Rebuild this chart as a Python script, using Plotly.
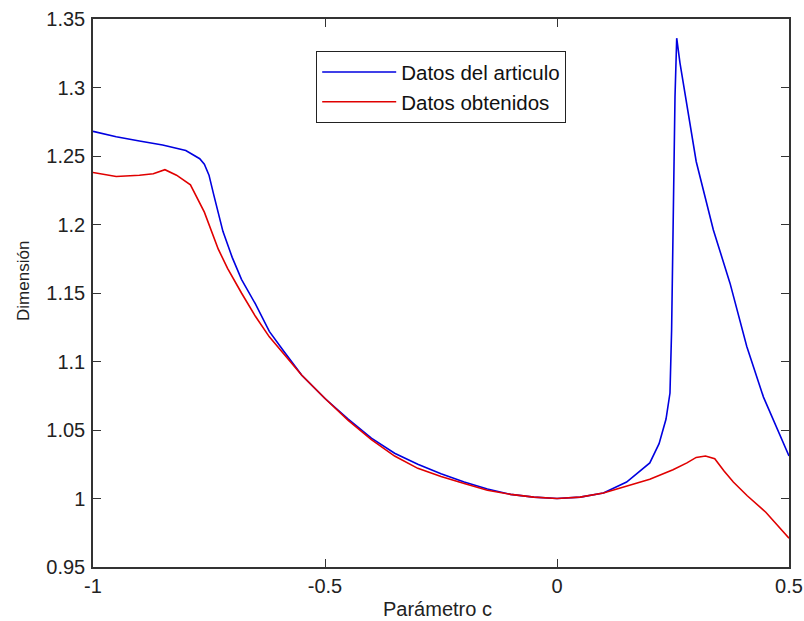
import plotly.graph_objects as go

# Datos del articulo (blue)
x_art = [-1, -0.95, -0.9, -0.85, -0.8, -0.77, -0.76, -0.75, -0.74, -0.72, -0.70,
         -0.68, -0.65, -0.62, -0.59, -0.55, -0.5, -0.45, -0.4, -0.35, -0.3, -0.25,
         -0.2, -0.15, -0.1, -0.05, 0, 0.05, 0.1, 0.15, 0.2, 0.22, 0.235, 0.2435,
         0.247, 0.2507, 0.2543, 0.258, 0.265, 0.3, 0.337, 0.373, 0.409, 0.445, 0.5]
y_art = [1.268, 1.264, 1.261, 1.258, 1.254, 1.248, 1.244, 1.236, 1.222, 1.195, 1.176,
         1.160, 1.142, 1.122, 1.108, 1.090, 1.073, 1.058, 1.044, 1.033, 1.025, 1.018,
         1.012, 1.007, 1.003, 1.001, 1.000, 1.001, 1.004, 1.012, 1.026, 1.040, 1.058, 1.077,
         1.123, 1.208, 1.293, 1.336, 1.318, 1.246, 1.196, 1.157, 1.111, 1.074, 1.031]

# Datos obtenidos (red)
x_obt = [-1, -0.95, -0.9, -0.87, -0.845, -0.82, -0.79, -0.76, -0.73, -0.71, -0.68,
         -0.65, -0.62, -0.59, -0.55, -0.5, -0.45, -0.4, -0.35, -0.3, -0.25, -0.2,
         -0.15, -0.1, -0.05, 0, 0.05, 0.1, 0.15, 0.2, 0.25, 0.28, 0.3, 0.32, 0.34,
         0.36, 0.38, 0.41, 0.45, 0.48, 0.5]
y_obt = [1.238, 1.235, 1.236, 1.237, 1.240, 1.236, 1.229, 1.209, 1.182, 1.168, 1.150,
         1.133, 1.118, 1.106, 1.090, 1.073, 1.057, 1.043, 1.031, 1.022, 1.016, 1.011,
         1.006, 1.003, 1.001, 1.000, 1.001, 1.004, 1.009, 1.014, 1.021, 1.026, 1.030, 1.031, 1.029,
         1.020, 1.012, 1.002, 0.990, 0.979, 0.971]

x_ticks = [-1, -0.5, 0, 0.5]
x_tick_labels = ["-1", "-0.5", "0", "0.5"]
y_ticks = [0.95, 1, 1.05, 1.1, 1.15, 1.2, 1.25, 1.3, 1.35]
y_tick_labels = ["0.95", "1", "1.05", "1.1", "1.15", "1.2", "1.25", "1.3", "1.35"]

x_title = "Parámetro c"
y_title = "Dimensión"

FONT = "Liberation Sans, Arial, sans-serif"
TXT = "#222222"

fig = go.Figure()
fig.add_trace(go.Scatter(x=x_art, y=y_art, mode="lines", name="Datos del articulo",
                         line=dict(color="#0000e0", width=1.6)))
fig.add_trace(go.Scatter(x=x_obt, y=y_obt, mode="lines", name="Datos obtenidos",
                         line=dict(color="#e00000", width=1.6)))

axis_common = dict(showgrid=False, zeroline=False, showline=True, linecolor="#333333",
                   linewidth=1.5, mirror="ticks", ticks="inside", ticklen=8,
                   tickcolor="#333333", tickwidth=1.2, automargin=False,
                   tickfont=dict(family=FONT, size=20, color=TXT))

fig.update_xaxes(range=[-1, 0.5], tickvals=x_ticks, ticktext=x_tick_labels,
                 ticklabeloverflow="allow", **axis_common)
fig.update_yaxes(range=[0.95, 1.35], tickvals=y_ticks, ticktext=y_tick_labels,
                 ticklabelstandoff=2, **axis_common)

fig.update_layout(
    width=804, height=621,
    margin=dict(l=93, r=15, t=19, b=54, pad=0),
    paper_bgcolor="white", plot_bgcolor="white",
    showlegend=True,
    legend=dict(x=0.3204, y=0.9416, xanchor="left", yanchor="top",
                bgcolor="white", bordercolor="#222222", borderwidth=1.2,
                font=dict(family=FONT, size=20.5, color="#111111"),
                itemwidth=74, tracegroupgap=0),
    annotations=[
        dict(text=x_title, xref="paper", yref="paper", x=0.495, y=0,
             xanchor="center", yanchor="middle", yshift=-42, showarrow=False,
             font=dict(family=FONT, size=20, color=TXT)),
        dict(text=y_title, xref="paper", yref="paper", x=0, y=0.522,
             xanchor="center", yanchor="middle", xshift=-69, textangle=-90,
             showarrow=False, font=dict(family=FONT, size=17, color=TXT)),
    ],
)

# remove the page's default body margin and scrollbars so the figure fills the window
fig.write_html("out.html", config={"displayModeBar": False},
               post_script="document.body.style.margin='0';document.body.style.overflow='hidden';")
